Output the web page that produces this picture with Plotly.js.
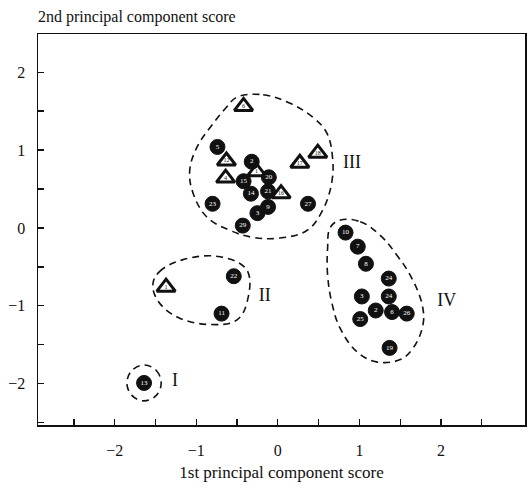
<!DOCTYPE html>
<html>
<head>
<meta charset="utf-8">
<script src="https://cdn.plot.ly/plotly-3.0.1.min.js"></script>
<style>html,body{margin:0;padding:0;background:#fff;}#chart{width:527px;height:488px;}</style>
</head>
<body>
<div id="chart"></div>
<script>
// Circle markers (1st PC score, 2nd PC score, label)
const circleX = [-0.74, -0.32, -0.42, -0.11, -0.33, -0.12, -0.12, -0.25, -0.80, -0.43, 0.37,
                 0.83, 0.98, 1.08, 1.36, 1.03, 1.36, 1.20, 1.40, 1.58, 1.01, 1.37,
                 -0.54, -0.69,
                 -1.64];
const circleY = [1.04, 0.85, 0.60, 0.65, 0.44, 0.47, 0.27, 0.19, 0.31, 0.03, 0.31,
                 -0.06, -0.24, -0.46, -0.65, -0.88, -0.88, -1.06, -1.08, -1.10, -1.17, -1.54,
                 -0.62, -1.10,
                 -1.99];
const circleLabels = ["5", "2", "15", "20", "14", "21", "9", "3", "23", "29", "27",
                      "10", "7", "8", "24", "3", "24", "2", "6", "26", "25", "19",
                      "22", "11",
                      "13"];
// Triangle markers
const triX = [-0.42, -0.63, -0.64, -0.26, 0.04, 0.27, 0.49, -1.37];
const triY = [1.56, 0.86, 0.64, 0.72, 0.44, 0.83, 0.96, -0.76];
const triLabels = ["6", "12", "4", "1", "16", "17", "18", "1"];

// Dashed group outlines (data units)
const outlineIX = [-1.64, -1.49, -1.43, -1.49, -1.64, -1.79, -1.85, -1.79, -1.64];
const outlineIY = [-1.76, -1.83, -1.99, -2.15, -2.22, -2.15, -1.99, -1.83, -1.76];
const outlineIIX = [-1.53, -1.45, -1.17, -0.71, -0.38, -0.37, -0.50, -0.83, -1.24, -1.48, -1.53];
const outlineIIY = [-0.71, -0.56, -0.41, -0.37, -0.54, -0.92, -1.18, -1.24, -1.14, -0.92, -0.71];
const outlineIIIX = [-0.50, -0.18, 0.15, 0.43, 0.60, 0.67, 0.66, 0.55, 0.36, 0.02, -0.31, -0.59, -0.87, -1.04, -1.08, -0.99, -0.83, -0.63, -0.50];
const outlineIIIY = [1.68, 1.71, 1.60, 1.42, 1.22, 0.91, 0.58, 0.23, -0.03, -0.13, -0.12, -0.03, 0.14, 0.45, 0.74, 1.04, 1.29, 1.55, 1.68];
const outlineIVX = [0.76, 1.01, 1.25, 1.46, 1.64, 1.77, 1.78, 1.66, 1.50, 1.21, 0.97, 0.76, 0.66, 0.61, 0.61, 0.64, 0.76];
const outlineIVY = [0.10, 0.08, -0.09, -0.35, -0.64, -0.99, -1.24, -1.54, -1.69, -1.72, -1.59, -1.28, -0.95, -0.60, -0.26, 0.00, 0.10];

// Group labels
const groupNames = ["I", "II", "III", "IV"];
const groupX = [-1.26, -0.16, 0.91, 2.07];
const groupY = [-1.97, -0.88, 0.83, -0.95];

const tickVals = [-2.5, -2, -1.5, -1, -0.5, 0, 0.5, 1, 1.5, 2, 2.5];
const tickText = ["", "\u22122", "", "\u22121", "", "0", "", "1", "", "2", ""];

const serif = "'Liberation Serif', 'DejaVu Serif', serif";

function outline(x, y) {
  return {x: x, y: y, type: "scatter", mode: "lines",
    line: {color: "#111", width: 1.6, dash: "7px,5px", shape: "spline", smoothing: 1.1},
    hoverinfo: "skip", showlegend: false};
}

const traces = [
  outline(outlineIX, outlineIY),
  outline(outlineIIX, outlineIIY),
  outline(outlineIIIX, outlineIIIY),
  outline(outlineIVX, outlineIVY),
  {x: triX, y: triY, type: "scatter", mode: "markers+text", text: triLabels,
   textposition: "middle center", textfont: {size: 6, color: "#111", family: serif},
   marker: {symbol: "triangle-up", size: 16, color: "#fff", line: {color: "#111", width: 3}},
   showlegend: false},
  {x: circleX, y: circleY, type: "scatter", mode: "markers+text", text: circleLabels,
   textposition: "middle center", textfont: {size: 7, color: "#fff", family: serif},
   marker: {symbol: "circle", size: 15, color: "#111", line: {color: "#111", width: 1}},
   showlegend: false},
  {x: groupX, y: groupY, type: "scatter", mode: "text", text: groupNames,
   textposition: "middle center", textfont: {size: 18, color: "#111", family: serif},
   showlegend: false, hoverinfo: "skip"}
];

const layout = {
  width: 527, height: 488,
  margin: {l: 38, r: 2, t: 34, b: 63},
  paper_bgcolor: "#fff", plot_bgcolor: "#fff",
  font: {family: serif, color: "#111", size: 15},
  showlegend: false,
  xaxis: {
    range: [-2.94, 3.03], showgrid: false, zeroline: false,
    showline: true, linecolor: "#111", linewidth: 1.5, mirror: true,
    ticks: "inside", ticklen: 6, tickwidth: 1.3, tickcolor: "#111",
    tickmode: "array", tickvals: tickVals, ticktext: tickText,
    tickfont: {size: 16, family: serif}, ticklabelstandoff: 10,
    title: {text: "1st principal component score", font: {size: 17, family: serif}, standoff: 8}
  },
  yaxis: {
    range: [-2.53, 2.49], showgrid: false, zeroline: false,
    showline: true, linecolor: "#111", linewidth: 1.5, mirror: true,
    ticks: "inside", ticklen: 6, tickwidth: 1.3, tickcolor: "#111",
    tickmode: "array", tickvals: tickVals, ticktext: tickText,
    tickfont: {size: 16, family: serif}, ticklabelstandoff: 8
  },
  annotations: [{
    text: "2nd principal component score", xref: "paper", yref: "paper",
    x: -0.005, y: 1.0, xanchor: "left", yanchor: "bottom", yshift: 6,
    showarrow: false, font: {size: 16, family: serif}
  }]
};

Plotly.newPlot("chart", traces, layout, {displayModeBar: false, staticPlot: true});
</script>
</body>
</html>
